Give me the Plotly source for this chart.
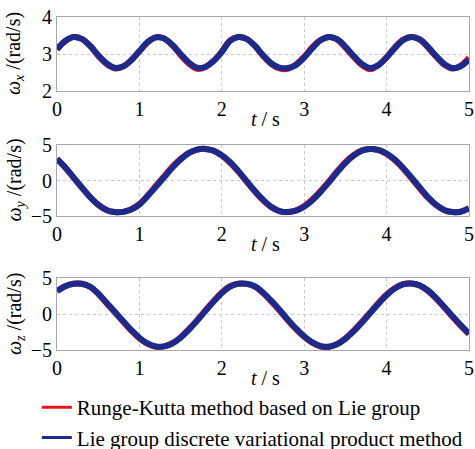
import plotly.graph_objects as go

# Sample times (s)
t = [round(0.1 * i, 1) for i in range(51)]

# Angular velocity components from the Lie group discrete variational product method (rad/s)
wx_lg = [3.13, 3.35, 3.46, 3.41, 3.23, 2.97, 2.75, 2.63, 2.66, 2.83,
         3.08, 3.33, 3.45, 3.42, 3.25, 3.00, 2.77, 2.63, 2.65, 2.81,
         3.05, 3.35, 3.46, 3.41, 3.23, 2.97, 2.75, 2.63, 2.62, 2.70,
         2.90, 3.16, 3.37, 3.46, 3.40, 3.20, 2.95, 2.73, 2.62, 2.70,
         2.90, 3.16, 3.37, 3.46, 3.40, 3.20, 2.95, 2.73, 2.62, 2.67,
         2.85]
wy_lg = [3.05, 1.85, 0.45, -0.95, -2.30, -3.40, -4.15, -4.45, -4.42, -4.10,
         -3.40, -2.20, -0.90, 0.45, 1.80, 2.95, 3.85, 4.35, 4.45, 4.20,
         3.55, 2.60, 1.35, -0.05, -1.45, -2.70, -3.70, -4.30, -4.45, -4.25,
         -3.70, -2.80, -1.60, -0.25, 1.15, 2.45, 3.50, 4.20, 4.45, 4.30,
         3.80, 2.95, 1.80, 0.45, -0.95, -2.30, -3.40, -4.15, -4.45, -4.40,
         -3.95]
wz_lg = [3.20, 3.85, 4.20, 4.20, 3.80, 2.85, 1.60, 0.35, -0.95, -2.20,
         -3.30, -4.10, -4.50, -4.50, -4.10, -3.30, -2.20, -0.95, 0.40, 1.70,
         2.90, 3.80, 4.20, 4.20, 3.85, 3.00, 1.85, 0.60, -0.75, -2.00,
         -3.10, -3.95, -4.45, -4.55, -4.20, -3.45, -2.40, -1.20, 0.10, 1.40,
         2.60, 3.55, 4.10, 4.25, 4.00, 3.30, 2.25, 1.00, -0.30, -1.55,
         -2.70]

# Angular velocity components from the Runge-Kutta method based on Lie group (rad/s)
wx_rk = [3.13, 3.35, 3.46, 3.41, 3.22, 2.95, 2.73, 2.61, 2.66, 2.83,
         3.07, 3.31, 3.45, 3.42, 3.23, 2.97, 2.74, 2.60, 2.65, 2.81,
         3.07, 3.37, 3.46, 3.41, 3.22, 2.95, 2.73, 2.61, 2.60, 2.72,
         2.93, 3.19, 3.38, 3.46, 3.39, 3.17, 2.92, 2.70, 2.59, 2.70,
         2.92, 3.18, 3.39, 3.46, 3.39, 3.18, 2.93, 2.71, 2.61, 2.69,
         2.90]
wy_rk = [3.05, 1.80, 0.40, -1.00, -2.32, -3.42, -4.15, -4.45, -4.42, -4.05,
         -3.30, -2.10, -0.75, 0.60, 1.95, 3.05, 3.90, 4.35, 4.45, 4.18,
         3.50, 2.50, 1.25, -0.15, -1.55, -2.78, -3.75, -4.32, -4.45, -4.20,
         -3.60, -2.65, -1.45, -0.10, 1.30, 2.60, 3.60, 4.25, 4.45, 4.28,
         3.75, 2.85, 1.70, 0.30, -1.10, -2.42, -3.48, -4.18, -4.45, -4.38,
         -3.90]
wz_rk = [3.20, 3.85, 4.20, 4.20, 3.78, 2.80, 1.50, 0.25, -1.05, -2.30,
         -3.38, -4.15, -4.55, -4.50, -4.05, -3.22, -2.10, -0.85, 0.50, 1.80,
         3.00, 3.85, 4.22, 4.18, 3.80, 2.92, 1.75, 0.48, -0.88, -2.12,
         -3.20, -4.02, -4.52, -4.55, -4.15, -3.38, -2.30, -1.08, 0.22, 1.52,
         2.72, 3.62, 4.15, 4.25, 3.95, 3.22, 2.15, 0.90, -0.40, -1.65,
         -2.78]

rk_name = "Runge-Kutta method based on Lie group"
lg_name = "Lie group discrete variational product method"
RED = "#e0151f"
BLUE = "#1c2a8c"

panels = [
    (wx_rk, wx_lg, "<i>ω</i><sub><i>x</i></sub> /(rad/s)", [2, 4], [2, 3, 4]),
    (wy_rk, wy_lg, "<i>ω</i><sub><i>y</i></sub> /(rad/s)", [-5, 5], [-5, 0, 5]),
    (wz_rk, wz_lg, "<i>ω</i><sub><i>z</i></sub> /(rad/s)", [-5, 5], [-5, 0, 5]),
]

W, H = 475, 449
x_px = (57, 469)
y_px = [(17, 91), (145, 216), (278, 350)]   # (top, bottom) of each panel in px

FONT = "Liberation Serif, Times New Roman, serif"
TXT = dict(family=FONT, size=20, color="#000")
fig = go.Figure()
layout = {}
annotations = []

for i, (rk, lg, ytitle, yrange, yticks) in enumerate(panels):
    n = "" if i == 0 else str(i + 1)
    xa, ya = "x" + n, "y" + n
    top, bot = y_px[i]
    fig.add_trace(go.Scatter(
        x=t, y=rk, xaxis=xa, yaxis=ya, mode="lines", name=rk_name,
        line=dict(color=RED, width=6, shape="spline"),
        legendgroup="rk", showlegend=False))
    fig.add_trace(go.Scatter(
        x=t, y=lg, xaxis=xa, yaxis=ya, mode="lines", name=lg_name,
        line=dict(color=BLUE, width=6, shape="spline"),
        legendgroup="lg", showlegend=False))

    layout["xaxis" + n] = dict(
        domain=[x_px[0] / W, x_px[1] / W], range=[0, 5], tickvals=[0, 1, 2, 3, 4, 5],
        anchor=ya, showline=True, mirror=True, linecolor="#a8a8a8", linewidth=1,
        showgrid=True, gridcolor="#c8c8c8", griddash="dot", gridwidth=1,
        zeroline=False, ticks="", tickfont=TXT,
    )
    layout["yaxis" + n] = dict(
        domain=[1 - bot / H, 1 - top / H], range=yrange, tickvals=yticks,
        anchor=xa, showline=True, mirror=True, linecolor="#a8a8a8", linewidth=1,
        showgrid=True, gridcolor="#c8c8c8", griddash="dot", gridwidth=1,
        zeroline=False, ticks="", tickfont=TXT,
    )
    # axis titles
    annotations.append(dict(
        text="<i>t</i> / s", xref="paper", yref="paper",
        x=265 / W, y=1 - (bot + 28) / H, xanchor="center", yanchor="middle",
        showarrow=False, font=TXT))
    annotations.append(dict(
        text=ytitle, xref="paper", yref="paper", textangle=-90,
        x=15 / W, y=1 - (top + bot) / 2 / H, xanchor="center", yanchor="middle",
        showarrow=False, font=TXT))

# Legend keys use a thinner stroke than the plotted curves
for name, color, grp in [(rk_name, RED, "rk"), (lg_name, BLUE, "lg")]:
    fig.add_trace(go.Scatter(
        x=[None], y=[None], mode="lines", name=name, legendgroup=grp,
        line=dict(color=color, width=3), showlegend=True))

fig.update_layout(
    **layout,
    annotations=annotations,
    width=W, height=H,
    margin=dict(l=0, r=0, t=0, b=0, autoexpand=False),
    paper_bgcolor="white", plot_bgcolor="white",
    font=TXT,
    legend=dict(
        x=0.0775, y=1 - 387 / H, xanchor="left", yanchor="top",
        traceorder="grouped", tracegroupgap=0,
        font=dict(family=FONT, size=21, color="#000"), bgcolor="rgba(0,0,0,0)",
    ),
)

fig.write_html("out.html")
